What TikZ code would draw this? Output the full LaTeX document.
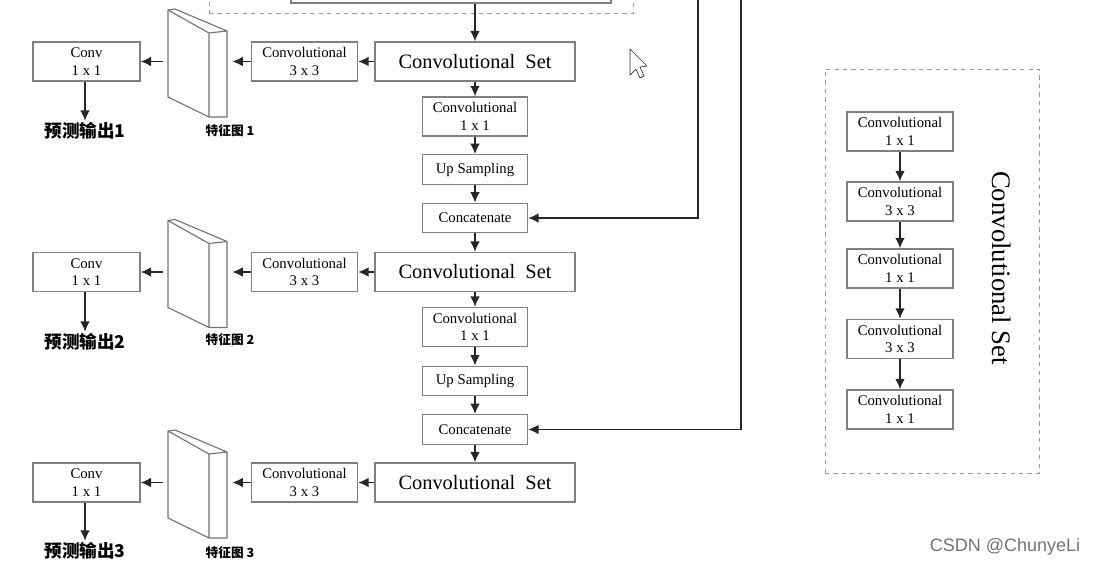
\documentclass[tikz,border=0pt]{standalone}
\usepackage{fontspec}
\setmainfont{Liberation Serif}
\newfontfamily\cjk{Noto Sans CJK SC}
\newfontfamily\wmfont{Liberation Sans}
\usetikzlibrary{arrows.meta,positioning,calc}

\begin{document}
\begin{tikzpicture}[x=0.025cm,y=-0.025cm,
		box/.style={draw=black!50, line width=0.9pt, fill=white, align=center, inner sep=0pt,
				minimum width=2.625cm, minimum height=0.975cm, font=\fontsize{10.5}{12.5}\selectfont},
		bigbox/.style={box, minimum width=5cm, font=\fontsize{14.5}{17}\selectfont},
		flat/.style={box, minimum height=0.74cm},
		arr/.style={-{Latex[length=7.5pt,width=7pt]}, line width=1.3pt, black!85},
		fmnode/.style={minimum width=1.725cm, minimum height=0.5cm, inner sep=0pt},
		pred/.style={font=\cjk\bfseries\fontsize{12.5}{14}\selectfont, inner sep=1pt},
		fmlabel/.style={font=\cjk\bfseries\fontsize{9}{10}\selectfont, inner sep=0pt},
		featmap/.pic={
				\draw[black!55, line width=0.8pt, fill=white, line join=round]
				(-29.5,-51.5) -- (11.5,-28.5) -- (11.5,55.5) -- (-29.5,35.5) -- cycle
				(-29.5,-51.5) -- (-22.5,-52.5) -- (29.5,-30.5) -- (11.5,-28.5)
				(29.5,-30.5) -- (29.5,55.5) -- (11.5,55.5);
			},
	]
	\useasboundingbox (0,0) rectangle (1094,567);
	\clip (0,0) rectangle (1094,567);

	% block above (cut off by the page)
	\node[draw=black!40, dashed, line width=0.6pt, minimum width=10.6cm, minimum height=1.675cm] (prevset) at (421,-20) {};
	\node[draw=black!50, line width=0.9pt, minimum width=8cm, minimum height=1cm] (prev) at (451,-17) {};
	\coordinate (sk1) at (698,-5);
	\coordinate (sk2) at (741,-5);

	% main column
	\node[bigbox] (set1) at (475,61.5) {Convolutional\ \ Set};
	\node[box] (cv1) at (475,116.5) {Convolutional\\1 x 1};
	\node[flat] (up1) at (475,169.5) {Up Sampling};
	\node[flat] (cat1) at (475,218) {Concatenate};
	\node[bigbox] (set2) at (475,272) {Convolutional\ \ Set};
	\node[box] (cv2) at (475,327) {Convolutional\\1 x 1};
	\node[flat] (up2) at (475,381) {Up Sampling};
	\node[flat] (cat2) at (475,429.5) {Concatenate};
	\node[bigbox] (set3) at (475,482.5) {Convolutional\ \ Set};

	% output branches
	\node[box, minimum width=2.65cm] (tc1) at (304.5,61.5) {Convolutional\\3 x 3};
	\node[box, minimum width=2.65cm] (tc2) at (304.5,272) {Convolutional\\3 x 3};
	\node[box, minimum width=2.65cm] (tc3) at (304.5,482.5) {Convolutional\\3 x 3};
	\node[fmnode] (fm1) at (197.5,61.5) {};
	\node[fmnode] (fm2) at (197.5,272) {};
	\node[fmnode] (fm3) at (197.5,482.5) {};
	\pic at (fm1.center) {featmap};
	\pic at (fm2.center) {featmap};
	\pic at (fm3.center) {featmap};
	\node[fmlabel] (f1) at (230,131) {特征图 1};
	\node[fmlabel] (f2) at (230,340) {特征图 2};
	\node[fmlabel] (f3) at (230,553) {特征图 3};
	\node[box, minimum width=2.675cm] (out1) at (86.5,61.5) {Conv\\1 x 1};
	\node[box, minimum width=2.675cm] (out2) at (86.5,272) {Conv\\1 x 1};
	\node[box, minimum width=2.675cm] (out3) at (86.5,482.5) {Conv\\1 x 1};
	\node[pred] (y1) at (85,131) {预测输出1};
	\node[pred] (y2) at (85,342) {预测输出2};
	\node[pred] (y3) at (85,551) {预测输出3};

	\draw[arr] (prev.south -| set1) -- (set1);
	\draw[arr] (set1) -- (cv1);
	\draw[arr] (cv1) -- (up1);
	\draw[arr] (up1) -- (cat1);
	\draw[arr] (cat1) -- (set2);
	\draw[arr] (set2) -- (cv2);
	\draw[arr] (cv2) -- (up2);
	\draw[arr] (up2) -- (cat2);
	\draw[arr] (cat2) -- (set3);
	\draw[arr] (sk1) |- (cat1);
	\draw[arr] (sk2) |- (cat2);
	\draw[arr] (set1) -- (tc1);
	\draw[arr] (set2) -- (tc2);
	\draw[arr] (set3) -- (tc3);
	\draw[arr] (tc1) -- (fm1);
	\draw[arr] (tc2) -- (fm2);
	\draw[arr] (tc3) -- (fm3);
	\draw[arr] (fm1) -- (out1);
	\draw[arr] (fm2) -- (out2);
	\draw[arr] (fm3) -- (out3);
	\draw[arr] (out1.south -| y1) -- (y1);
	\draw[arr] (out2.south -| y2) -- (y2);
	\draw[arr] (out3.south -| y3) -- (y3);

	% Convolutional Set detail
	\node[draw=black!40, dashed, line width=0.6pt, minimum width=5.35cm, minimum height=10.1cm] (rs) at (932,271) {};
	\node[box, minimum width=2.65cm] (r1) at (900,131.5) {Convolutional\\1 x 1};
	\node[box, minimum width=2.65cm] (r2) at (900,201.5) {Convolutional\\3 x 3};
	\node[box, minimum width=2.65cm] (r3) at (900,268.5) {Convolutional\\1 x 1};
	\node[box, minimum width=2.65cm] (r4) at (900,339) {Convolutional\\3 x 3};
	\node[box, minimum width=2.65cm] (r5) at (900,409.5) {Convolutional\\1 x 1};
	\node[rotate=-90, font=\fontsize{19}{22}\selectfont] (rsl) at (1002,268) {Convolutional Set};
	\draw[arr] (r1) -- (r2);
	\draw[arr] (r2) -- (r3);
	\draw[arr] (r3) -- (r4);
	\draw[arr] (r4) -- (r5);

	% mouse pointer
	\draw[black!80, line width=0.5pt, fill=white, line join=round]
	(630,49) -- (630,75) -- (636,69) -- (640,78) -- (644,76) -- (640,67) -- (647,66) -- cycle;

	\node[font=\wmfont\fontsize{12.8}{14}\selectfont, text=black!55] (wm) at (1005,547) {CSDN @ChunyeLi};
\end{tikzpicture}
\end{document}
